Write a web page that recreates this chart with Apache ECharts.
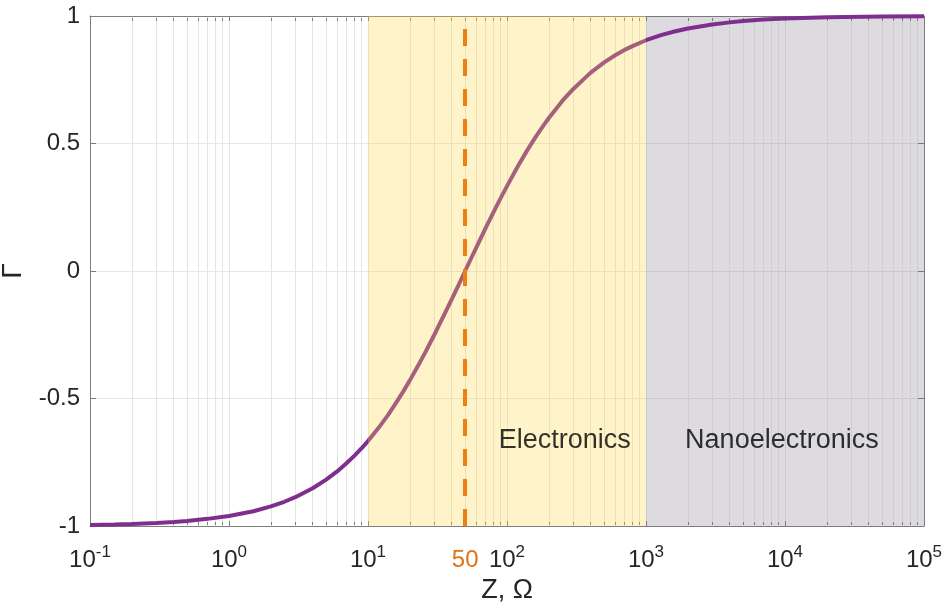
<!DOCTYPE html>
<html><head><meta charset="utf-8">
<script src="https://cdn.jsdelivr.net/npm/echarts@6/dist/echarts.min.js"></script>
<style>html,body{margin:0;padding:0;background:#fff}#c{width:947px;height:603px}</style>
</head><body><div id="c"></div>
<script>
// Curve: Z (ohm) and reflection coefficient Γ
const zValues = [0.1,0.15,0.2,0.3,0.4,0.5,0.7,1,1.5,2,2.5,3,4,5,6,7,8,9,10,12,14,16,18,20,23,26,30,35,40,45,50,55,60,70,80,90,100,120,140,160,180,200,250,300,400,500,600,700,800,1000,1300,1600,2000,3000,4000,5000,7000,10000,20000,50000,100000];
const gammaValues = [-0.996,-0.994,-0.992,-0.988,-0.984,-0.980,-0.972,-0.961,-0.942,-0.923,-0.905,-0.887,-0.852,-0.818,-0.786,-0.754,-0.724,-0.695,-0.667,-0.613,-0.563,-0.515,-0.471,-0.429,-0.370,-0.316,-0.250,-0.176,-0.111,-0.053,0,0.048,0.091,0.167,0.231,0.286,0.333,0.412,0.474,0.524,0.565,0.600,0.667,0.714,0.778,0.818,0.846,0.867,0.882,0.905,0.926,0.939,0.951,0.967,0.975,0.980,0.986,0.990,0.995,0.998,0.999];
const xMajorTicks = [0.1,1,10,100,1000,10000,100000];
const xLabelValues = [0.1,1,10,50,100,1000,10000,100000];
const yTicks = [-1,-0.5,0,0.5,1];
const referenceZ = 50;
const electronicsRange = [10,1000];
const nanoRange = [1000,100000];
const regionLabels = ['Electronics','Nanoelectronics'];

// minor tick values 2..9 per decade
const xMinorTicks = [];
for (let d = -1; d < 5; d++) for (let k = 2; k <= 9; k++) xMinorTicks.push(+(k * Math.pow(10, d)).toPrecision(3));
const xAllTicks = xMajorTicks.concat(xMinorTicks).sort((a,b)=>a-b);

const FONT = 'Liberation Sans, Arial, Helvetica, sans-serif';
const TXT = '#262626';
const AX = '#7d7d7d';

const chart = echarts.init(document.getElementById('c'), null, {renderer:'canvas'});
const rich = {
  b:{fontSize:24,color:TXT,fontFamily:FONT},
  s:{fontSize:17,color:TXT,fontFamily:FONT,padding:[0,0,16,0]},
  o:{fontSize:24,color:'#E07316',fontFamily:FONT,padding:[4,0,0,0]}
};
function xfmt(v){
  if (Math.abs(v - referenceZ) < 1e-6) return '{o|50}';
  const e = Math.round(Math.log10(v));
  return '{b|10}{s|' + e + '}';
}
const xy = zValues.map((z,i)=>[z,gammaValues[i]]);

chart.setOption({
  animation:false,
  grid:{left:90,right:23,top:16,bottom:77,outerBoundsMode:'none',containLabel:false},
  xAxis:[{
    type:'log', logBase:10, min:0.1, max:100000, position:'bottom',
    name:'Z, Ω', nameLocation:'middle', nameGap:50,
    nameTextStyle:{fontSize:27,color:TXT,fontFamily:FONT},
    axisLine:{show:true,onZero:false,lineStyle:{color:AX,width:1}},
    axisTick:{show:true,inside:true,length:5,lineStyle:{color:AX},customValues:xAllTicks},
    axisLabel:{show:true,margin:18,customValues:xLabelValues,formatter:xfmt,rich:rich},
    splitLine:{show:true,lineStyle:{color:'#e6e6e6',width:1}},
    minorTick:{show:false}
  },{
    type:'log', logBase:10, min:0.1, max:100000, position:'top',
    axisLine:{show:true,onZero:false,lineStyle:{color:AX,width:1}},
    axisTick:{show:true,inside:true,length:5,lineStyle:{color:AX},customValues:xAllTicks},
    axisLabel:{show:false},
    splitLine:{show:false}
  }],
  yAxis:[{
    type:'value', min:-1, max:1, interval:0.5, position:'left',
    name:'Γ', nameLocation:'middle', nameGap:58,
    nameTextStyle:{fontSize:28,color:TXT,fontFamily:FONT},
    axisLine:{show:true,onZero:false,lineStyle:{color:AX,width:1}},
    axisTick:{show:true,inside:true,length:6,lineStyle:{color:AX}},
    axisLabel:{fontSize:24,color:TXT,fontFamily:FONT,margin:10,formatter:v=>String(v)},
    splitLine:{show:true,lineStyle:{color:'#e6e6e6',width:1}}
  },{
    type:'value', min:-1, max:1, interval:0.5, position:'right',
    axisLine:{show:true,onZero:false,lineStyle:{color:AX,width:1}},
    axisTick:{show:true,inside:true,length:6,lineStyle:{color:AX}},
    axisLabel:{show:false},
    splitLine:{show:false}
  }],
  series:[
    { // minor grid
      type:'line', data:[], z:1, silent:true,
      markLine:{z:1,symbol:'none',silent:true,label:{show:false},
        lineStyle:{color:'#e0e0e0',type:[1,3],width:1},
        data:xMinorTicks.map(v=>({xAxis:v}))}
    },
    { // nanoelectronics region (under the curve)
      type:'line', data:[], z:1, silent:true,
      markArea:{z:1,silent:true,label:{show:false},data:[
        [{xAxis:nanoRange[0],yAxis:-1,itemStyle:{color:'rgba(112,104,122,0.24)'}},{xAxis:nanoRange[1],yAxis:1}]
      ]}
    },
    {
      type:'line', data:xy, z:2, showSymbol:false, smooth:false,
      lineStyle:{color:'#7E2F8E',width:4}
    },
    { // electronics region overlay
      type:'line', data:[], z:3, silent:true,
      markArea:{z:3,silent:true,label:{show:false},data:[
        [{xAxis:electronicsRange[0],yAxis:-1,itemStyle:{color:'rgba(255,215,80,0.30)'}},{xAxis:electronicsRange[1],yAxis:1}]
      ]}
    },
    { // reference line
      type:'line', data:[], z:4, silent:true,
      markLine:{z:5,symbol:'none',silent:true,
        lineStyle:{color:'#EE7F12',type:[17,13],width:4},
        label:{show:false},
        data:[[{coord:[referenceZ,-1]},{coord:[referenceZ,1]}]]}
    },
    { // region labels
      type:'scatter', z:6, symbolSize:0, silent:true,
      data:[
        {value:[260,-0.665],name:regionLabels[0]},
        {value:[9500,-0.665],name:regionLabels[1]}
      ],
      label:{show:true,position:'inside',formatter:p=>p.name,fontSize:27,color:'#000',fontFamily:FONT}
    }
  ]
});
</script></body></html>
